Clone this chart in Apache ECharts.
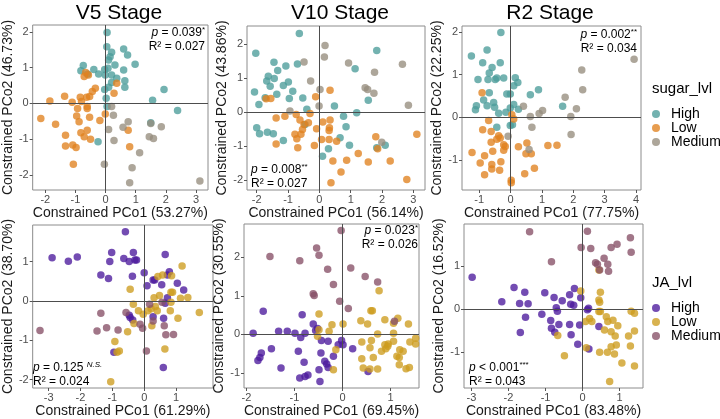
<!DOCTYPE html>
<html>
<head>
<meta charset="utf-8">
<script src="https://cdn.jsdelivr.net/npm/echarts@6/dist/echarts.min.js"></script>
<style>
  html, body { margin: 0; padding: 0; background: #fff; }
  #main { width: 720px; height: 419px; }
</style>
</head>
<body>
<div id="main"></div>
<script>
// 各阶段标题与坐标轴名称
var stages = ['V5 Stage', 'V10 Stage', 'R2 Stage'];
var pco1Names = ['Constrained PCo1 (53.27%)', 'Constrained PCo1 (56.14%)', 'Constrained PCo1 (77.75%)',
                 'Constrained PCo1 (61.29%)', 'Constrained PCo1 (69.45%)', 'Constrained PCo1 (83.48%)'];
var pco2Names = ['Constrained PCo2 (46.73%)', 'Constrained PCo2 (43.86%)', 'Constrained PCo2 (22.25%)',
                 'Constrained PCo2 (38.70%)', 'Constrained PCo2 (30.55%)', 'Constrained PCo2 (16.52%)'];
var levels = ['High', 'Low', 'Medium'];

// 刻度
var xTicks = [[-2, -1, 0, 1, 2, 3], [-2, -1, 0, 1, 2, 3], [-1, 0, 1, 2, 3, 4],
              [-3, -2, -1, 0, 1], [-2, -1, 0, 1], [-3, -2, -1, 0, 1]];
var yTicks = [[-2, -1, 0, 1, 2], [-2, -1, 0, 1, 2], [-1, 0, 1, 2],
              [-2, -1, 0, 1], [-1, 0, 1, 2], [-1, 0, 1]];

// p / R2
var pValues = ['0.039', '0.008', '0.002', '0.125', '0.023', '< 0.001'];
var pStars = ['*', '**', '**', 'N.S.', '*', '***'];
var r2Values = ['0.027', '0.027', '0.034', '0.024', '0.026', '0.043'];

// ---- sugar_lvl ----
var v5SugarHigh = [[0.05,1.98],[0.04,1.58],[0.6,1.52],[0.73,1.35],[0.2,1.43],[0.15,1.3],[0.1,1.21],[-0.74,1.06],[-0.82,0.91],[-0.39,0.95],[-0.23,0.82],[-0.6,0.82],[-0.03,0.95],[0.08,0.98],[0.31,1.07],[0.98,1.09],[0.6,0.93],[-0.01,0.79],[0.2,0.79],[0.37,0.7],[0.64,0.63],[0.64,0.45],[0.2,0.58],[0.1,0.45],[-0.03,0.39],[0.02,0.14],[1.94,0.39],[1.56,0.09],[2.39,-0.2],[0.05,-0.09],[1.5,-0.54],[-0.25,-1.07]];
var v5SugarLow = [[-0.66,0.86],[-0.57,0.79],[-0.71,0.75],[-0.34,0.42],[-0.44,0.33],[-0.53,0.19],[-0.63,0.17],[0.37,0.56],[0.28,0.28],[-1.85,0.07],[-1.36,0.2],[-1.11,0.03],[-0.84,0.17],[-0.8,0.05],[-0.61,-0.09],[-0.61,-0.14],[-0.93,-0.14],[-2.15,-0.42],[-1.66,-0.58],[-0.96,-0.35],[-0.88,-0.51],[-0.53,-0.39],[-0.19,-0.48],[-0.01,-0.3],[-0.82,-0.82],[-0.61,-0.75],[-0.71,-0.93],[-0.5,-1.0],[-1.33,-0.89],[-1.33,-1.19],[-1.09,-1.16],[-0.98,-1.23],[-1.07,-1.7],[0.75,-0.75],[0.8,-1.21]];
var v5SugarMed = [[0.2,-0.09],[0.26,-0.33],[0.1,-0.73],[0.58,-0.67],[0.75,-0.51],[0.28,-1.04],[1.13,-1.38],[1.45,-0.93],[1.59,-0.98],[1.85,-0.65],[-0.04,-1.7],[0.88,-1.8],[0.8,-2.22],[3.13,-2.17],[1.5,-0.56]];

var v10SugarHigh = [[-0.64,2.3],[-2.03,1.72],[-1.45,1.46],[-1.33,1.22],[-1.07,1.35],[-0.7,1.41],[-1.63,1.05],[-1.68,0.91],[-1.44,0.98],[-0.99,0.88],[-1.15,0.78],[-1.57,0.76],[-2.07,0.59],[-1.73,0.42],[-1.93,0.22],[-1.36,0.52],[-0.85,0.61],[-0.96,0.4],[-0.53,0.41],[-0.4,0.08],[1.83,1.8],[1.14,1.27],[1.56,0.35],[0.48,0.18],[1.19,-0.02],[0.77,-0.12],[0.85,-0.43],[0.66,-0.75],[0.29,-1.07],[0.1,-1.29],[0.96,-0.97],[1.83,-1.04],[2.1,-0.97],[-2.0,-0.46],[-1.91,-0.63],[-1.66,-0.59],[-1.47,-0.63],[-1.15,-0.83],[-0.46,-0.36]];
var v10SugarLow = [[-1.7,0.39],[-1.55,0.4],[-1.38,-0.17],[-1.1,-0.12],[-0.74,-0.07],[-0.3,-0.04],[-0.12,0.45],[0.34,0.64],[-0.62,-0.23],[-0.49,-0.36],[-0.54,-0.51],[-0.35,-0.31],[-0.78,-0.65],[-0.59,-0.65],[-0.72,-0.78],[-0.69,-1.04],[-0.16,-0.98],[-1.38,-0.93],[-0.09,-0.49],[0.11,-0.29],[0.34,-0.23],[0.32,-0.46],[0.31,-0.54],[0.07,-0.8],[0.31,-0.8],[0.55,-0.85],[0.43,-1.43],[0.69,-1.75],[0.37,-2.07],[0.87,-1.41],[1.24,-1.21],[1.56,-1.46],[1.8,-0.72],[1.86,-1.07],[2.26,-1.43],[2.79,-1.97],[3.11,-0.65]];
var v10SugarMed = [[0.18,1.95],[0.16,1.61],[-0.49,1.47],[-0.28,0.91],[0.02,0.66],[-0.01,0.18],[-0.94,0.03],[0.93,1.44],[1.46,0.71],[1.54,0.66],[1.76,1.17],[2.65,1.4],[2.84,0.2],[1.74,0.55],[1.99,-0.88]];

var r2SugarHigh = [[-0.31,1.99],[-1.25,1.44],[-0.75,1.58],[-0.89,1.28],[-0.33,1.28],[-0.59,1.17],[-0.68,1.04],[-1.04,0.89],[-0.72,0.89],[-0.49,0.89],[-0.44,0.92],[-0.22,0.92],[0.15,0.93],[0.23,0.82],[0.1,0.74],[-0.68,0.58],[-0.12,0.55],[-0.01,0.55],[0.89,0.65],[0.63,0.53],[-0.86,0.41],[-0.54,0.35],[-1.09,0.27],[-0.75,0.27],[-1.12,0.18],[-0.51,0.24],[-0.38,0.1],[-0.15,0.12],[-0.01,0.22],[0.1,0.3],[1.66,0.26],[0.25,0.19],[-0.44,-0.23],[-0.01,-0.19],[0.06,-0.17]];
var r2SugarLow = [[-0.91,0.58],[-0.7,-0.07],[0.04,0.06],[0.1,-0.04],[-0.89,-0.29],[-0.62,-0.33],[-0.38,-0.43],[-0.62,-0.58],[-0.44,-0.51],[-0.33,-0.48],[-0.57,-0.79],[-0.83,-0.9],[-1.23,-0.82],[-0.97,-1.07],[-0.6,-1.1],[-0.6,-1.21],[-0.83,-1.34],[-0.31,-1.04],[-0.35,-1.24],[-0.22,-0.64],[-0.17,-0.68],[-0.22,-0.77],[0.25,-0.69],[0.52,-0.6],[0.49,-0.85],[0.66,-0.85],[0.76,-1.19],[0.45,-1.32],[0.02,-1.47],[0.02,-1.53],[1.19,-0.66],[1.48,-0.65]];
var r2SugarMed = [[0.41,0.26],[0.63,0.02],[0.91,0.09],[1.02,0.16],[0.68,-0.23],[-0.08,-0.44],[0.59,-0.75],[1.74,0.47],[2.1,0.2],[1.92,0.02],[1.93,-0.4],[2.27,1.11],[2.3,0.65],[3.94,1.36]];

// ---- JA_lvl ----
var v5JaHigh = [[-2.89,1.1],[-2.38,1.01],[-2.1,1.12],[-1.36,0.66],[-1.12,0.57],[-1.08,1.0],[-1.02,1.23],[-0.59,1.76],[-0.64,1.08],[-0.47,1.0],[-0.34,1.23],[-0.29,1.04],[-0.24,1.04],[-0.37,0.63],[0,0.72],[0.09,0.39],[0.28,0.53],[0.33,0.53],[0.55,0.41],[0.66,1.18],[0.79,0.74],[0.73,0.66],[1.04,0.45],[1.24,0.28],[0.73,0.08],[0.66,-0.06],[-0.47,-0.36],[-0.44,-0.42],[-0.36,-0.48],[0.28,-0.4],[0.61,-0.44],[-0.95,-1.3],[0.6,-1.69]];
var v5JaLow = [[1.19,0.89],[0.86,0.64],[0.58,0.66],[0.43,0.62],[-0.44,0.3],[0.84,0.22],[0.89,0.22],[0.48,0.14],[0.31,0.08],[1.14,0.07],[1.37,0.09],[0.84,-0.03],[-0.34,-0.08],[-0.18,-0.25],[-0.03,-0.34],[0.12,-0.25],[0.22,-0.2],[0.41,-0.25],[0.82,-0.25],[1.73,-0.29],[1.06,-0.44],[-0.32,-0.57],[-0.52,-0.78],[0.24,-0.63],[-0.92,-1.03],[-0.78,-1.27],[-0.85,-1.3],[0.65,-1.22],[-1.05,-2.05],[0.35,-0.14]];
var v5JaMed = [[-3.27,-0.75],[-1.36,-0.31],[-1.48,-0.76],[-1.18,-0.68],[-0.82,-0.74],[-0.57,-0.29],[-0.13,-0.59],[-0.05,-0.69],[0.17,-0.08],[0.28,-0.51],[0.63,-0.63],[0.68,-0.86],[0.92,-0.85],[0.07,-1.27],[0.56,-0.03]];

var v10JaHigh = [[-1.65,0.6],[-1.86,0.03],[-1.33,0.08],[-1.15,0.08],[-0.99,0.03],[-0.78,0.03],[-0.84,0.51],[-0.87,-0.08],[-0.61,0.27],[-0.56,0.1],[-0.52,0.15],[-0.44,-0.16],[-0.3,-0.18],[-0.09,-0.27],[-0.02,-0.16],[0.01,-0.27],[-0.19,-0.57],[0.21,-0.37],[-0.45,-0.48],[-0.37,-0.7],[-0.33,-0.77],[-0.3,-0.86],[-0.49,-0.92],[-0.47,-1.22],[-0.8,-0.72],[-0.92,-0.44],[-0.72,-1.05],[-0.78,-1.09],[-0.89,-1.13],[-1.48,-0.37],[-1.69,-0.48],[-1.72,-0.6],[-1.76,-0.68],[-1.28,-0.87],[0.53,-0.96]];
var v10JaLow = [[-0.49,0.53],[-0.22,0.25],[0.01,0.27],[-0.49,0.12],[-0.52,-0.05],[-0.28,0.08],[-0.14,-0.4],[-0.19,-0.92],[0.38,0.35],[0.59,0.61],[0.62,0.61],[0.52,0.27],[0.88,0.38],[1.15,0.42],[1.06,0.29],[1.37,0.27],[0.73,0.01],[1.06,0.03],[0.4,-0.2],[0.6,-0.16],[0.88,-0.27],[0.95,-0.25],[1.06,-0.18],[0.9,-0.37],[0.94,-0.31],[1.4,-0.2],[1.52,-0.1],[1.52,-0.25],[1.19,-0.4],[1.26,-0.44],[0.81,-0.44],[1.13,-0.57],[1.18,-0.6],[0.57,-0.35],[0.4,-0.63],[0.64,-0.6],[0.43,-0.87],[0.57,-0.9],[0.73,-0.9],[1.18,-0.79],[1.32,-0.89],[1.39,-0.86],[0.76,1.13]];
var v10JaMed = [[-0.03,2.69],[-1.51,2.02],[-0.89,1.91],[-0.54,2.24],[-0.49,2.05],[-0.31,1.69],[0.17,1.72],[-0.19,1.29],[-0.61,1.05],[-0.59,1.01],[-0.06,0.86],[0.47,1.5],[0.73,1.36],[0.12,0.67],[1.08,0.34]];

var r2JaHigh = [[-2.98,0.74],[-2.18,0.17],[-1.85,0.5],[-1.7,0.13],[-1.56,0.39],[-1.47,0.12],[-1.54,-0.19],[-1.68,-0.55],[-1.1,-0.12],[-1.02,0.38],[-0.77,0.27],[-0.71,0.03],[-0.68,-0.05],[-0.55,0.19],[-0.35,0.33],[-0.22,0.48],[-0.32,0.11],[-0.24,0.09],[-0.05,0.26],[-0.86,-0.27],[-0.84,-0.45],[-0.75,-0.54],[-0.64,-0.36],[-0.35,-0.36],[-0.31,-0.6],[-0.08,-0.37],[-0.13,-0.82],[0.17,-0.93],[0.13,-0.02],[0.16,0.02],[0.44,-0.41]];
var r2JaLow = [[-0.05,0.42],[0.48,0.39],[0.44,0.21],[0.46,0.16],[0.44,-0.06],[0.48,-0.06],[0.19,-0.22],[0.25,-0.29],[0.08,-0.29],[0.64,-0.18],[0.68,-0.29],[0.82,-0.26],[0.59,-0.49],[0.95,-0.39],[0.77,-0.53],[1.31,-0.05],[1.4,-0.1],[1.4,-0.51],[1.24,-0.63],[0.88,-0.63],[0.91,-0.84],[0.77,-0.88],[0.46,-1.01],[0.67,-1.01],[0.86,-1.05],[1.29,-0.86],[1.06,-1.26],[1.4,-1.33],[0.73,-1.69],[-0.49,-1.09],[-0.67,-0.62],[0.1,-0.9],[0.44,0.91]];
var r2JaMed = [[-1.43,1.8],[0.13,1.81],[-0.84,1.1],[-0.04,1.43],[0.22,1.41],[0.77,1.43],[0.93,1.51],[1.29,1.66],[1.31,1.32],[0.35,1.08],[0.4,1.04],[0.58,1.18],[0.68,1.04],[0.7,0.88],[0.46,0.91]];

var panelData = [
    [v5SugarHigh, v5SugarLow, v5SugarMed],
    [v10SugarHigh, v10SugarLow, v10SugarMed],
    [r2SugarHigh, r2SugarLow, r2SugarMed],
    [v5JaHigh, v5JaLow, v5JaMed],
    [v10JaHigh, v10JaLow, v10JaMed],
    [r2JaHigh, r2JaLow, r2JaMed]
];

var sugarColors = ['#4b9c9a', '#e0811f', '#968d7d'];
var jaColors = ['#4c1a9c', '#cd9c1f', '#864f67'];

// 面板位置 (px) 与坐标范围
var boxes = [
    {l: 29, r: 208, t: 25, b: 190},
    {l: 247, r: 425, t: 26, b: 190},
    {l: 462, r: 641, t: 26, b: 190},
    {l: 28, r: 213, t: 225, b: 388},
    {l: 244, r: 419, t: 224, b: 388},
    {l: 464, r: 643, t: 224, b: 388}
];
var xRange = [[-2.42, 3.40], [-2.31, 3.37], [-1.55, 4.16], [-3.5, 2.16], [-2.05, 1.59], [-3.2, 1.63]];
var yRange = [[-2.42, 2.19], [-2.28, 2.52], [-1.70, 2.14], [-2.21, 1.93], [-1.39, 2.86], [-1.84, 1.98]];
var yNameGap = [14, 12, 11, 11, 9, 11];
var xNameGap = [13, 13, 13, 15, 15, 15];

var font = '"Liberation Sans", Arial, sans-serif';
var myChart = echarts.init(document.getElementById('main'), null, {renderer: 'canvas'});

var grids = [], xAxes = [], yAxes = [], series = [];
boxes.forEach(function (b, i) {
    grids.push({
        left: b.l, top: b.t, width: b.r - b.l, height: b.b - b.t,
        show: true, borderColor: '#8c8c8c', borderWidth: 1, backgroundColor: 'transparent'
    });
    xAxes.push({
        gridIndex: i, type: 'value', min: xRange[i][0], max: xRange[i][1],
        name: pco1Names[i], nameLocation: 'middle', nameGap: xNameGap[i],
        nameTextStyle: {fontFamily: font, fontSize: 14, color: '#1a1a1a'},
        axisLine: {show: false, onZero: false},
        axisTick: {show: true, length: 3, customValues: xTicks[i], lineStyle: {color: '#555'}},
        axisLabel: {customValues: xTicks[i], margin: 4, fontFamily: font, fontSize: 11, color: '#4d4d4d'},
        splitLine: {show: false}
    });
    yAxes.push({
        gridIndex: i, type: 'value', min: yRange[i][0], max: yRange[i][1],
        name: pco2Names[i], nameLocation: 'middle', nameGap: yNameGap[i],
        nameTextStyle: {fontFamily: font, fontSize: 14, color: '#1a1a1a'},
        axisLine: {show: false, onZero: false},
        axisTick: {show: true, length: 3, customValues: yTicks[i], lineStyle: {color: '#555'}},
        axisLabel: {customValues: yTicks[i], margin: 4, fontFamily: font, fontSize: 11, color: '#4d4d4d'},
        splitLine: {show: false}
    });
    var isJa = i >= 3;
    var colors = isJa ? jaColors : sugarColors;
    panelData[i].forEach(function (pts, k) {
        var s = {
            name: (isJa ? 'JA:' : 'sugar:') + levels[k],
            type: 'scatter',
            xAxisIndex: i, yAxisIndex: i,
            data: pts,
            symbolSize: 7.5,
            itemStyle: {color: colors[k], opacity: 0.78},
            emphasis: {disabled: true},
            silent: true
        };
        if (k === 0) {
            s.markLine = {
                silent: true, symbol: 'none', animation: false,
                label: {show: false},
                lineStyle: {color: '#4d4d4d', width: 1, type: 'solid'},
                data: [{xAxis: 0}, {yAxis: 0}]
            };
        }
        series.push(s);
    });
});

// 文字：标题、图例标题、p 值
var graphics = [];
var titleX = [119, 340, 550];
stages.forEach(function (t, i) {
    graphics.push({
        type: 'text', x: titleX[i], y: 13, silent: true,
        style: {text: t, fontFamily: font, fontSize: 21, fill: '#000', align: 'center', verticalAlign: 'middle'}
    });
});
graphics.push({type: 'text', x: 652, y: 89, silent: true,
    style: {text: 'sugar_lvl', fontFamily: font, fontSize: 15, fill: '#000', align: 'left', verticalAlign: 'middle'}});
graphics.push({type: 'text', x: 652, y: 283, silent: true,
    style: {text: 'JA_lvl', fontFamily: font, fontSize: 15, fill: '#000', align: 'left', verticalAlign: 'middle'}});

// 两行文字块的上沿位置
var annoPos = [
    {x: 205, y: 26, align: 'right'},
    {x: 251, y: 163, align: 'left'},
    {x: 637, y: 28, align: 'right'},
    {x: 33, y: 361, align: 'left'},
    {x: 418, y: 224, align: 'right'},
    {x: 469, y: 361, align: 'left'}
];
annoPos.forEach(function (a, i) {
    var star = pStars[i];
    var eq = pValues[i].charAt(0) === '<' ? ' ' : ' = ';
    graphics.push({
        type: 'text', x: a.x, y: a.y, silent: true,
        style: {
            text: '{p|p}{n|' + eq + pValues[i] + (star === 'N.S.' ? ' ' : '') + '}{s|' + star + '}\n{n|R² = ' + r2Values[i] + '}',
            align: a.align, verticalAlign: 'top', fontFamily: font, fill: '#000',
            lineHeight: 13.5,
            rich: {
                p: {fontFamily: font, fontSize: 12, fontStyle: 'italic', lineHeight: 13.5},
                n: {fontFamily: font, fontSize: 12, lineHeight: 13.5},
                s: {fontFamily: font, fontSize: 8, fontStyle: star === 'N.S.' ? 'italic' : 'normal', verticalAlign: 'top', lineHeight: 13.5}
            }
        }
    });
});

option = {
    animation: false,
    backgroundColor: '#fff',
    grid: grids,
    xAxis: xAxes,
    yAxis: yAxes,
    legend: [{
        orient: 'vertical', left: 647, top: 102,
        data: ['sugar:High', 'sugar:Low', 'sugar:Medium'],
        icon: 'circle', itemWidth: 20, itemHeight: 8, itemGap: 0,
        selectedMode: false,
        formatter: function (n) { return n.split(':')[1]; },
        textStyle: {fontFamily: font, fontSize: 14, color: '#000', lineHeight: 14, padding: [0, 0, 0, 0]}
    }, {
        orient: 'vertical', left: 647, top: 296,
        data: ['JA:High', 'JA:Low', 'JA:Medium'],
        icon: 'circle', itemWidth: 20, itemHeight: 8, itemGap: 0,
        selectedMode: false,
        formatter: function (n) { return n.split(':')[1]; },
        textStyle: {fontFamily: font, fontSize: 14, color: '#000', lineHeight: 14, padding: [0, 0, 0, 0]}
    }],
    graphic: graphics,
    series: series
};

myChart.setOption(option);
</script>
</body>
</html>
